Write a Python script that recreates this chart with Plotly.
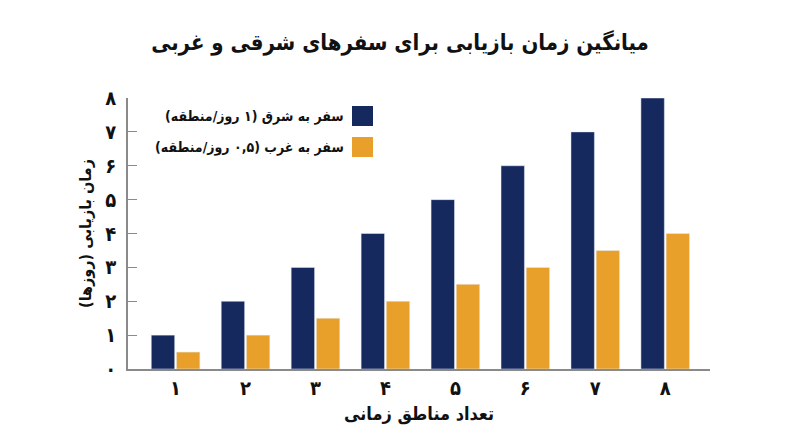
import plotly.graph_objects as go

# data
zones = [1, 2, 3, 4, 5, 6, 7, 8]
zone_labels = ["۱", "۲", "۳", "۴", "۵", "۶", "۷", "۸"]
east_days = [1, 2, 3, 4, 5, 6, 7, 8]
west_days = [0.5, 1, 1.5, 2, 2.5, 3, 3.5, 4]
y_ticks = [0, 1, 2, 3, 4, 5, 6, 7, 8]
y_tick_labels = ["۰", "۱", "۲", "۳", "۴", "۵", "۶", "۷", "۸"]

RLM = "\u200F"
east_name = "سفر به شرق (۱ روز/منطقه)" + RLM
west_name = "سفر به غرب (۰,۵ روز/منطقه)" + RLM

NAVY = "#16295f"
ORANGE = "#e8a02a"
FONT = "DejaVu Sans Condensed, DejaVu Sans"

fig = go.Figure()
fig.add_trace(go.Bar(x=zones, y=east_days, name=east_name, marker_color=NAVY))
fig.add_trace(go.Bar(x=zones, y=west_days, name=west_name, marker_color=ORANGE))

# page has an 8px body margin, so the figure is drawn 8px in from the corner
OFF = 8
W, H = 784, 431
L, T = 128 - OFF, 98 - OFF
R = W - (710 - OFF)
B = H - (369 - OFF)
pw, ph = W - L - R, H - T - B


def px(x):
    return (x - OFF - L) / pw


def py(y):
    return (H - B - (y - OFF)) / ph


fig.update_layout(
    width=W, height=H,
    margin=dict(l=L, r=R, t=T, b=B),
    paper_bgcolor="white",
    plot_bgcolor="white",
    barmode="group",
    bargap=0.28,
    bargroupgap=0.07,
    showlegend=False,
    font=dict(family=FONT, color="#111111"),
    title=dict(
        text="میانگین زمان بازیابی برای سفرهای شرقی و غربی",
        x=(400 - OFF) / W, xref="container", xanchor="center",
        y=1 - (42 - OFF) / H, yanchor="middle",
        font=dict(family=FONT, size=22, weight="bold", color="#111111"),
    ),
    xaxis=dict(
        range=[0.32, 8.64],
        tickvals=zones, ticktext=zone_labels,
        showgrid=False, zeroline=False,
        showline=True, linecolor="#8a8a8a", linewidth=1.5,
        ticks="", ticklabelstandoff=0,
        tickfont=dict(family=FONT, size=20, weight="bold"),
        title=dict(text="تعداد مناطق زمانی",
                   font=dict(family=FONT, size=18, weight="bold"), standoff=9),
    ),
    yaxis=dict(
        range=[0, 8],
        tickvals=y_ticks, ticktext=y_tick_labels,
        showgrid=False, zeroline=False,
        showline=True, linecolor="#8a8a8a", linewidth=1.5,
        ticks="inside", ticklen=9, tickcolor="#8a8a8a", tickwidth=1,
        ticklabelstandoff=6,
        tickfont=dict(family=FONT, size=20, weight="bold"),
        title=dict(text="زمان بازیابی (روزها)" + RLM,
                   font=dict(family=FONT, size=16, weight="bold"), standoff=10),
    ),
)

# right-to-left legend: swatch on the right, text on its left
for name, color, cy in [(east_name, NAVY, 116), (west_name, ORANGE, 147)]:
    fig.add_shape(type="rect", xref="paper", yref="paper",
                  x0=px(352), x1=px(373), y0=py(cy - 10), y1=py(cy + 10),
                  fillcolor=color, line_width=0)
    fig.add_annotation(text=name, xref="paper", yref="paper",
                       x=px(346), y=py(cy), xanchor="right", yanchor="middle",
                       showarrow=False,
                       font=dict(family=FONT, size=14, weight="bold", color="#111111"))

fig.write_html("out.html")
